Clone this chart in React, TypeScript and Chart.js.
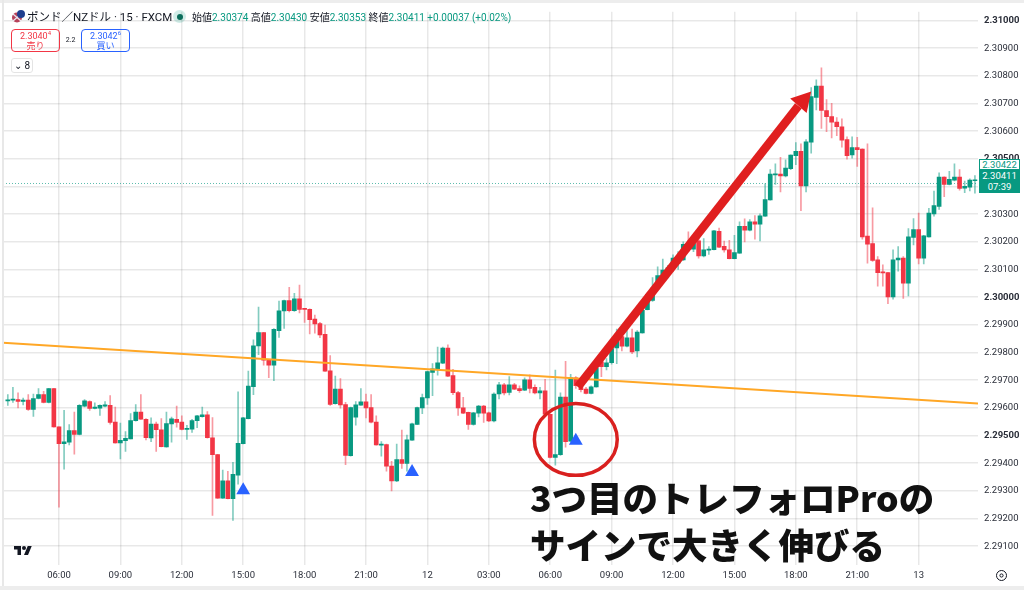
import React, { useEffect, useRef } from "react";
import { Chart, registerables } from "chart.js";

Chart.register(...registerables);

const opens = [
2.29625,2.29628,2.29630,2.29623,2.29628,2.29594,2.29634,2.29648,2.29620,2.29670,
2.29531,2.29471,2.29476,2.29518,2.29504,2.29606,2.29623,2.29598,2.29599,2.29606,
2.29609,2.29549,2.29473,2.29481,2.29488,2.29554,2.29585,2.29559,2.29491,2.29541,
2.29521,2.29459,2.29542,2.29559,2.29549,2.29522,2.29523,2.29554,2.29568,2.29575,
2.29492,2.29431,2.29274,2.29336,2.29272,2.29357,2.29471,2.29561,2.29677,2.29824,
2.29872,2.29772,2.29754,2.29879,2.29950,2.29988,2.29951,2.29994,2.29958,2.29956,
2.29921,2.29905,2.29866,2.29734,2.29615,2.29668,2.29612,2.29427,2.29566,2.29610,
2.29622,2.29601,2.29549,2.29465,2.29467,2.29390,2.29336,2.29413,2.29399,2.29483,
2.29540,2.29600,2.29636,2.29728,2.29739,2.29762,2.29816,2.29717,2.29655,2.29600,
2.29584,2.29540,2.29581,2.29606,2.29582,2.29553,2.29650,2.29683,2.29656,2.29683,
2.29670,2.29664,2.29701,2.29674,2.29654,2.29662,2.29577,2.29421,2.29431,2.29639,
2.29480,2.29709,2.29692,2.29668,2.29652,2.29676,2.29766,2.29749,2.29763,2.29817,
2.29858,2.29823,2.29853,2.29806,2.29871,2.29955,2.29988,2.30033,2.30063,2.30082,
2.30106,2.30123,2.30135,2.30194,2.30174,2.30204,2.30149,2.30170,2.30172,2.30238,
2.30184,2.30171,2.30139,2.30159,2.30256,2.30242,2.30272,2.30264,2.30293,2.30352,
2.30442,2.30445,2.30438,2.30465,2.30512,2.30527,2.30402,2.30560,2.30722,2.30763,
2.30675,2.30653,2.30633,2.30616,2.30570,2.30514,2.30541,2.30535,2.30221,2.30194,
2.30135,2.30091,2.30089,2.30001,2.30135,2.30141,2.30051,2.30216,2.30244,2.30141,
2.30218,2.30301,2.30328,2.30434,2.30408,2.30423,2.30434,2.30394,2.30398,2.30421,
];
const closes = [
2.29628,2.29630,2.29623,2.29628,2.29594,2.29634,2.29648,2.29620,2.29670,2.29531,
2.29471,2.29477,2.29518,2.29504,2.29609,2.29625,2.29598,2.29603,2.29609,2.29611,
2.29547,2.29473,2.29483,2.29490,2.29554,2.29585,2.29559,2.29492,2.29541,2.29521,
2.29460,2.29543,2.29560,2.29547,2.29522,2.29524,2.29554,2.29571,2.29575,2.29492,
2.29431,2.29274,2.29336,2.29272,2.29360,2.29472,2.29564,2.29679,2.29824,2.29872,
2.29772,2.29754,2.29884,2.29951,2.29988,2.29951,2.29994,2.29956,2.29956,2.29919,
2.29903,2.29864,2.29733,2.29612,2.29668,2.29611,2.29428,2.29601,2.29611,2.29622,
2.29600,2.29548,2.29466,2.29469,2.29389,2.29336,2.29413,2.29399,2.29484,2.29542,
2.29601,2.29637,2.29731,2.29741,2.29763,2.29816,2.29715,2.29655,2.29600,2.29581,
2.29540,2.29582,2.29606,2.29581,2.29553,2.29650,2.29683,2.29654,2.29683,2.29668,
2.29662,2.29701,2.29670,2.29654,2.29662,2.29577,2.29421,2.29431,2.29639,2.29478,
2.29709,2.29680,2.29666,2.29652,2.29676,2.29745,2.29749,2.29763,2.29814,2.29867,
2.29823,2.29853,2.29802,2.29874,2.29953,2.30010,2.30033,2.30078,2.30098,2.30106,
2.30141,2.30141,2.30191,2.30177,2.30194,2.30149,2.30171,2.30174,2.30240,2.30181,
2.30171,2.30139,2.30161,2.30256,2.30242,2.30272,2.30264,2.30294,2.30353,2.30445,
2.30445,2.30438,2.30467,2.30514,2.30527,2.30402,2.30562,2.30725,2.30763,2.30675,
2.30653,2.30633,2.30616,2.30568,2.30512,2.30541,2.30533,2.30218,2.30192,2.30133,
2.30089,2.30088,2.30001,2.30135,2.30141,2.30051,2.30218,2.30244,2.30141,2.30222,
2.30304,2.30331,2.30434,2.30408,2.30426,2.30434,2.30393,2.30401,2.30423,2.30423,
];
const highs = [
2.29648,2.29674,2.29654,2.29635,2.29648,2.29650,2.29670,2.29660,2.29671,2.29671,
2.29531,2.29591,2.29540,2.29585,2.29612,2.29630,2.29625,2.29618,2.29611,2.29623,
2.29644,2.29603,2.29545,2.29514,2.29579,2.29612,2.29648,2.29561,2.29564,2.29549,
2.29561,2.29585,2.29567,2.29606,2.29571,2.29537,2.29559,2.29573,2.29603,2.29587,
2.29565,2.29432,2.29375,2.29371,2.29403,2.29658,2.29566,2.29733,2.29846,2.29964,
2.29873,2.29773,2.29887,2.29986,2.29990,2.30036,2.30014,2.30044,2.29959,2.29958,
2.29935,2.29909,2.29899,2.29789,2.29715,2.29706,2.29620,2.29603,2.29623,2.29670,
2.29650,2.29648,2.29571,2.29478,2.29469,2.29407,2.29469,2.29520,2.29502,2.29545,
2.29603,2.29650,2.29733,2.29760,2.29820,2.29820,2.29828,2.29739,2.29660,2.29638,
2.29585,2.29584,2.29609,2.29609,2.29585,2.29654,2.29692,2.29689,2.29713,2.29689,
2.29680,2.29709,2.29719,2.29683,2.29674,2.29703,2.29578,2.29737,2.29654,2.29768,
2.29721,2.29713,2.29704,2.29674,2.29680,2.29751,2.29778,2.29778,2.29832,2.29885,
2.29867,2.29879,2.29885,2.29879,2.29956,2.30015,2.30071,2.30110,2.30138,2.30115,
2.30153,2.30165,2.30200,2.30236,2.30206,2.30218,2.30212,2.30183,2.30242,2.30250,
2.30203,2.30206,2.30224,2.30272,2.30283,2.30281,2.30295,2.30301,2.30410,2.30461,
2.30482,2.30506,2.30497,2.30515,2.30559,2.30554,2.30570,2.30758,2.30786,2.30829,
2.30714,2.30701,2.30649,2.30645,2.30580,2.30580,2.30578,2.30536,2.30554,2.30323,
2.30147,2.30117,2.30090,2.30171,2.30183,2.30147,2.30248,2.30284,2.30304,2.30224,
2.30321,2.30384,2.30450,2.30435,2.30455,2.30482,2.30461,2.30420,2.30428,2.30440,
];
const lows = [
2.29609,2.29620,2.29600,2.29611,2.29591,2.29569,2.29632,2.29618,2.29618,2.29530,
2.29241,2.29378,2.29466,2.29433,2.29502,2.29603,2.29591,2.29596,2.29573,2.29603,
2.29541,2.29472,2.29415,2.29443,2.29488,2.29552,2.29558,2.29484,2.29478,2.29443,
2.29459,2.29458,2.29476,2.29530,2.29520,2.29486,2.29511,2.29528,2.29566,2.29490,
2.29211,2.29273,2.29273,2.29271,2.29193,2.29324,2.29470,2.29560,2.29648,2.29792,
2.29754,2.29709,2.29698,2.29855,2.29887,2.29947,2.29949,2.29943,2.29909,2.29867,
2.29870,2.29854,2.29732,2.29609,2.29613,2.29599,2.29395,2.29425,2.29537,2.29609,
2.29564,2.29546,2.29465,2.29425,2.29371,2.29300,2.29333,2.29381,2.29371,2.29482,
2.29539,2.29579,2.29612,2.29644,2.29718,2.29760,2.29713,2.29648,2.29573,2.29579,
2.29522,2.29537,2.29567,2.29547,2.29550,2.29549,2.29632,2.29647,2.29647,2.29666,
2.29656,2.29662,2.29654,2.29650,2.29632,2.29575,2.29419,2.29393,2.29428,2.29458,
2.29478,2.29670,2.29658,2.29650,2.29650,2.29675,2.29713,2.29737,2.29758,2.29760,
2.29806,2.29820,2.29796,2.29784,2.29870,2.29954,2.29985,2.30027,2.30060,2.30070,
2.30094,2.30100,2.30133,2.30165,2.30165,2.30141,2.30146,2.30155,2.30171,2.30179,
2.30163,2.30138,2.30138,2.30158,2.30200,2.30240,2.30210,2.30203,2.30292,2.30351,
2.30408,2.30381,2.30435,2.30461,2.30479,2.30313,2.30381,2.30521,2.30677,2.30610,
2.30598,2.30576,2.30584,2.30542,2.30499,2.30503,2.30473,2.30210,2.30123,2.30129,
2.30040,2.30040,2.29977,2.29993,2.30094,2.29996,2.30005,2.30189,2.30120,2.30120,
2.30217,2.30293,2.30317,2.30363,2.30406,2.30420,2.30387,2.30378,2.30384,2.30376,
];

const timeTickIndexes = [10, 22, 34, 46, 58, 70, 82, 94, 106, 118, 130, 142, 154, 166, 178];
const timeTickLabels = ["06:00", "09:00", "12:00", "15:00", "18:00", "21:00", "12", "03:00", "06:00", "09:00", "12:00", "15:00", "18:00", "21:00", "13"];
const priceTicks = [2.291, 2.292, 2.293, 2.294, 2.295, 2.296, 2.297, 2.298, 2.299, 2.3, 2.301, 2.302, 2.303, 2.304, 2.305, 2.306, 2.307, 2.308, 2.309, 2.31];

const signalPoints = [
  { x: 46, y: 2.29302 },
  { x: 79, y: 2.29368 },
  { x: 111, y: 2.29481 },
];
const trendLine = [
  { x: -0.94, y: 2.29835 },
  { x: 189.6, y: 2.29616 },
];
const lastPriceLine = [
  { x: -0.94, y: 2.30411 },
  { x: 189.6, y: 2.30411 },
];
const arrowShaft = [
  { x: 111.4, y: 2.29676 },
  { x: 154.5, y: 2.30692 },
];
const arrowTip = { x: 157, y: 2.30744 };
const circleBox = { x: 111, y: 2.29486, dx: 8.1, dy: 0.0013 };

const GREEN = "#089981";
const RED = "#F23645";
const FONT = "Roboto, 'Noto Sans CJK JP', sans-serif";

const annotate = {
  id: "annotate",
  afterDatasetsDraw(chart: any) {
    const { ctx, scales } = chart;
    const sx = scales.x;
    const sy = scales.y;
    // red circle
    const cx = sx.getPixelForValue(circleBox.x);
    const cy = sy.getPixelForValue(circleBox.y);
    const rx = Math.abs(sx.getPixelForValue(circleBox.x + circleBox.dx) - cx);
    const ry = Math.abs(sy.getPixelForValue(circleBox.y + circleBox.dy) - cy);
    ctx.save();
    ctx.strokeStyle = "#D9201F";
    ctx.lineWidth = 3.5;
    ctx.beginPath();
    ctx.ellipse(cx, cy, rx, ry, 0, 0, Math.PI * 2);
    ctx.stroke();
    // arrow head
    const bx = sx.getPixelForValue(arrowShaft[1].x);
    const by = sy.getPixelForValue(arrowShaft[1].y);
    const tx = sx.getPixelForValue(arrowTip.x);
    const ty = sy.getPixelForValue(arrowTip.y);
    const len = Math.hypot(tx - bx, ty - by);
    const nx = -(ty - by) / len;
    const ny = (tx - bx) / len;
    const half = 11;
    ctx.fillStyle = "#E01F1F";
    ctx.beginPath();
    ctx.moveTo(tx, ty);
    ctx.lineTo(bx + nx * half, by + ny * half);
    ctx.lineTo(bx - nx * half, by - ny * half);
    ctx.closePath();
    ctx.fill();
    ctx.restore();
  },
};

const abs = (left: number, top: number, extra: React.CSSProperties = {}): React.CSSProperties => ({
  position: "absolute",
  left,
  top,
  whiteSpace: "nowrap",
  ...extra,
});

export default function App() {
  const ref = useRef<HTMLCanvasElement | null>(null);

  useEffect(() => {
    const idx = opens.map((_, i) => i);
    const isUp = (i: number) => closes[i] >= opens[i];
    const chart = new Chart(ref.current as HTMLCanvasElement, {
      type: "bar",
      data: {
        datasets: [
          {
            type: "line",
            data: lastPriceLine,
            borderColor: "rgba(8,153,129,0.65)",
            borderWidth: 1,
            borderDash: [1, 2],
            pointRadius: 0,
            order: 9,
          },
          {
            data: idx.map((i) => ({ x: i, y: [lows[i], highs[i]] })),
            backgroundColor: (c: any) => (isUp(c.dataIndex) ? "rgba(8,153,129,0.5)" : "rgba(242,54,69,0.5)"),
            barThickness: 1,
            grouped: false,
            order: 8,
          },
          {
            data: idx.map((i) => ({ x: i, y: [opens[i], closes[i]] })),
            backgroundColor: (c: any) => (isUp(c.dataIndex) ? GREEN : RED),
            barThickness: 4,
            minBarLength: 1,
            grouped: false,
            order: 7,
          },
          {
            type: "line",
            data: trendLine,
            borderColor: "#FFA726",
            borderWidth: 2,
            pointRadius: 0,
            order: 6,
          },
          {
            type: "line",
            data: signalPoints,
            showLine: false,
            pointStyle: "triangle",
            pointRadius: 8,
            pointBackgroundColor: "#2962FF",
            pointBorderWidth: 0,
            order: 5,
          },
          {
            type: "line",
            data: arrowShaft,
            borderColor: "#E01F1F",
            borderWidth: 8.5,
            pointRadius: 0,
            order: 4,
          },
        ] as any,
      },
      options: {
        responsive: false,
        animation: false,
        devicePixelRatio: 1,
        layout: { autoPadding: false, padding: { left: 3, top: 3, right: 0, bottom: 0 } },
        plugins: { legend: { display: false }, tooltip: { enabled: false } },
        scales: {
          x: {
            type: "linear",
            min: -0.94,
            max: 189.6,
            offset: false,
            border: { display: false },
            grid: { color: "rgba(0,0,0,0.09)", lineWidth: 1.5, offset: false, drawTicks: false },
            afterBuildTicks: (axis: any) => {
              axis.ticks = timeTickIndexes.map((value) => ({ value }));
            },
            afterFit: (axis: any) => {
              axis.height = 25;
            },
            ticks: {
              autoSkip: false,
              maxRotation: 0,
              minRotation: 0,
              padding: 5,
              color: "#2a2e39",
              font: { family: FONT, size: 9.5 },
              callback: (v: any) => timeTickLabels[timeTickIndexes.indexOf(v)] ?? "",
            },
          },
          y: {
            type: "linear",
            position: "right",
            min: 2.29032,
            max: 2.31032,
            border: { display: false },
            grid: { color: "rgba(0,0,0,0.09)", lineWidth: 1.5, drawTicks: false },
            afterBuildTicks: (axis: any) => {
              axis.ticks = priceTicks.map((value) => ({ value }));
            },
            afterFit: (axis: any) => {
              axis.width = 46;
            },
            ticks: {
              padding: 6,
              color: "#2a2e39",
              font: (c: any) => ({
                family: FONT,
                size: 9.5,
                weight: c.tick && Math.round(c.tick.value * 1e5) % 500 === 0 ? "bold" : "normal",
              }),
              callback: (v: any) => Number(v).toFixed(5),
            },
          },
        },
      } as any,
      plugins: [annotate],
    });
    return () => chart.destroy();
  }, []);

  return (
    <div style={{ position: "fixed", left: 0, top: 0, width: 1024, height: 590, overflow: "hidden", background: "#fff", fontFamily: FONT, color: "#131722" }}>
      <canvas ref={ref} width={1024} height={590} style={{ display: "block", position: "absolute", left: 0, top: 0 }} />

      <div style={abs(0, 0, { width: 1024, height: 3, background: "#ededed" })} />
      <div style={abs(2, 0, { width: 2, height: 590, background: "#e8e8e8" })} />
      <div style={abs(0, 586, { width: 1024, height: 4, background: "#ededed" })} />

      <svg style={abs(11, 9)} width="14" height="14" viewBox="0 0 14 14">
        <circle cx="6" cy="8.5" r="5" fill="#b6425a" />
        <path d="M2 5 L10 12 M10 5 L2 12" stroke="#e9e9f2" strokeWidth="1.2" />
        <circle cx="10" cy="5" r="4" fill="#1f3f8f" />
      </svg>
      <div style={abs(27, 10, { fontSize: 11.5, lineHeight: "14px" })}>ポンド／NZドル · 15 · FXCM</div>
      <div style={abs(173, 10, { width: 13, height: 13, borderRadius: 7, background: "rgba(8,153,129,0.18)" })} />
      <div style={abs(176.5, 13.5, { width: 6, height: 6, borderRadius: 3, background: "#0b6e5c" })} />
      <div style={abs(192, 11, { fontSize: 10, lineHeight: "13px", color: GREEN })}>
        <span style={{ color: "#131722" }}>始値</span>2.30374{" "}
        <span style={{ color: "#131722" }}>高値</span>2.30430{" "}
        <span style={{ color: "#131722" }}>安値</span>2.30353{" "}
        <span style={{ color: "#131722" }}>終値</span>2.30411 +0.00037 (+0.02%)
      </div>

      <div style={abs(11, 29, { width: 49, height: 23, boxSizing: "border-box", border: "1px solid #F23645", borderRadius: 4, color: "#F23645", textAlign: "center", fontSize: 9, lineHeight: "10.5px", paddingTop: 0.5 })}>
        2.3040<sup style={{ fontSize: 6, lineHeight: 0 }}>4</sup>
        <br />売り
      </div>
      <div style={abs(65, 35, { fontSize: 7, lineHeight: "10px", width: 11, textAlign: "center" })}>2.2</div>
      <div style={abs(81, 29, { width: 49, height: 23, boxSizing: "border-box", border: "1px solid #2962FF", borderRadius: 4, color: "#2962FF", textAlign: "center", fontSize: 9, lineHeight: "10.5px", paddingTop: 0.5 })}>
        2.3042<sup style={{ fontSize: 6, lineHeight: 0 }}>6</sup>
        <br />買い
      </div>
      <div style={abs(11, 58, { width: 22, height: 15, boxSizing: "border-box", border: "1px solid #e4e4e4", borderRadius: 3, fontSize: 10, lineHeight: "13px", textAlign: "center", background: "#fff" })}>⌄ 8</div>

      <svg style={abs(12, 544)} width="22" height="14" viewBox="0 0 36 28">
        <path d="M14 22H7V11H0V4h14v18zM28 22h-8l7.5-18h8L28 22z" fill="#131722" />
        <circle cx="20" cy="8" r="4" fill="#131722" />
      </svg>

      <div style={abs(979, 159, { width: 41, height: 11, boxSizing: "border-box", border: "1px solid #089981", background: "#fff", color: GREEN, fontSize: 9.5, lineHeight: "9px", textAlign: "center" })}>2.30422</div>
      <div style={abs(979, 170, { width: 41, height: 23, background: GREEN, color: "#fff", fontSize: 9.5, lineHeight: "11px", textAlign: "center" })}>
        2.30411
        <br />07:39
      </div>

      <svg style={abs(995, 569)} width="13" height="13" viewBox="0 0 13 13">
        <circle cx="6.5" cy="6.5" r="5" fill="none" stroke="#131722" strokeWidth="1" />
        <circle cx="6.5" cy="6.5" r="1.6" fill="none" stroke="#131722" strokeWidth="1" />
      </svg>

      <div style={abs(530, 476, { fontFamily: "'Noto Sans CJK JP', sans-serif", fontWeight: 900, fontSize: 35.5, lineHeight: "42px", color: "#111" })}>3つ目のトレフォロProの</div>
      <div style={abs(530, 523, { fontFamily: "'Noto Sans CJK JP', sans-serif", fontWeight: 900, fontSize: 35.5, lineHeight: "42px", color: "#111" })}>サインで大きく伸びる</div>
    </div>
  );
}
